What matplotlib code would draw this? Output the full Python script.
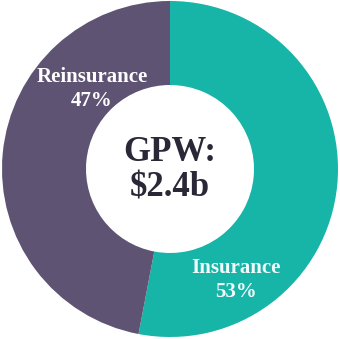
import matplotlib.pyplot as plt

labels = ['Insurance', 'Reinsurance']
shares = [53, 47]
colors = ['#17b4a8', '#5e5372']
center_lines = ['GPW:', '$2.4b']

plt.rcParams['font.family'] = ['Liberation Serif', 'DejaVu Serif']

fig = plt.figure(figsize=(3.40, 3.39), dpi=100)
ax = fig.add_axes([0, 0, 1, 1])
ax.pie(shares, colors=colors, startangle=90, counterclock=False,
       radius=1, wedgeprops=dict(width=0.5, edgecolor='none'))
ax.set_xlim(-170 / 168, 170 / 168)
ax.set_ylim(-170 / 168, 169 / 168)
ax.set_aspect('auto')
ax.axis('off')

# segment labels
ax.text(0.393, -0.589, labels[0], ha='center', va='center', color='#f2fbfb',
        fontsize=15, fontweight='bold')
ax.text(0.393, -0.735, f'{shares[0]}%', ha='center', va='center', color='#f2fbfb',
        fontsize=15, fontweight='bold')
ax.text(-0.464, 0.548, labels[1], ha='center', va='center', color='white',
        fontsize=15, fontweight='bold')
ax.text(-0.464, 0.402, f'{shares[1]}%', ha='center', va='center', color='white',
        fontsize=15, fontweight='bold')

# centre text
ax.text(0, 0.10, center_lines[0], ha='center', va='center', color='#2a2737',
        fontsize=25, fontweight='bold')
ax.text(0, -0.115, center_lines[1], ha='center', va='center', color='#2a2737',
        fontsize=25, fontweight='bold')

fig.savefig('out.png', dpi=100)
